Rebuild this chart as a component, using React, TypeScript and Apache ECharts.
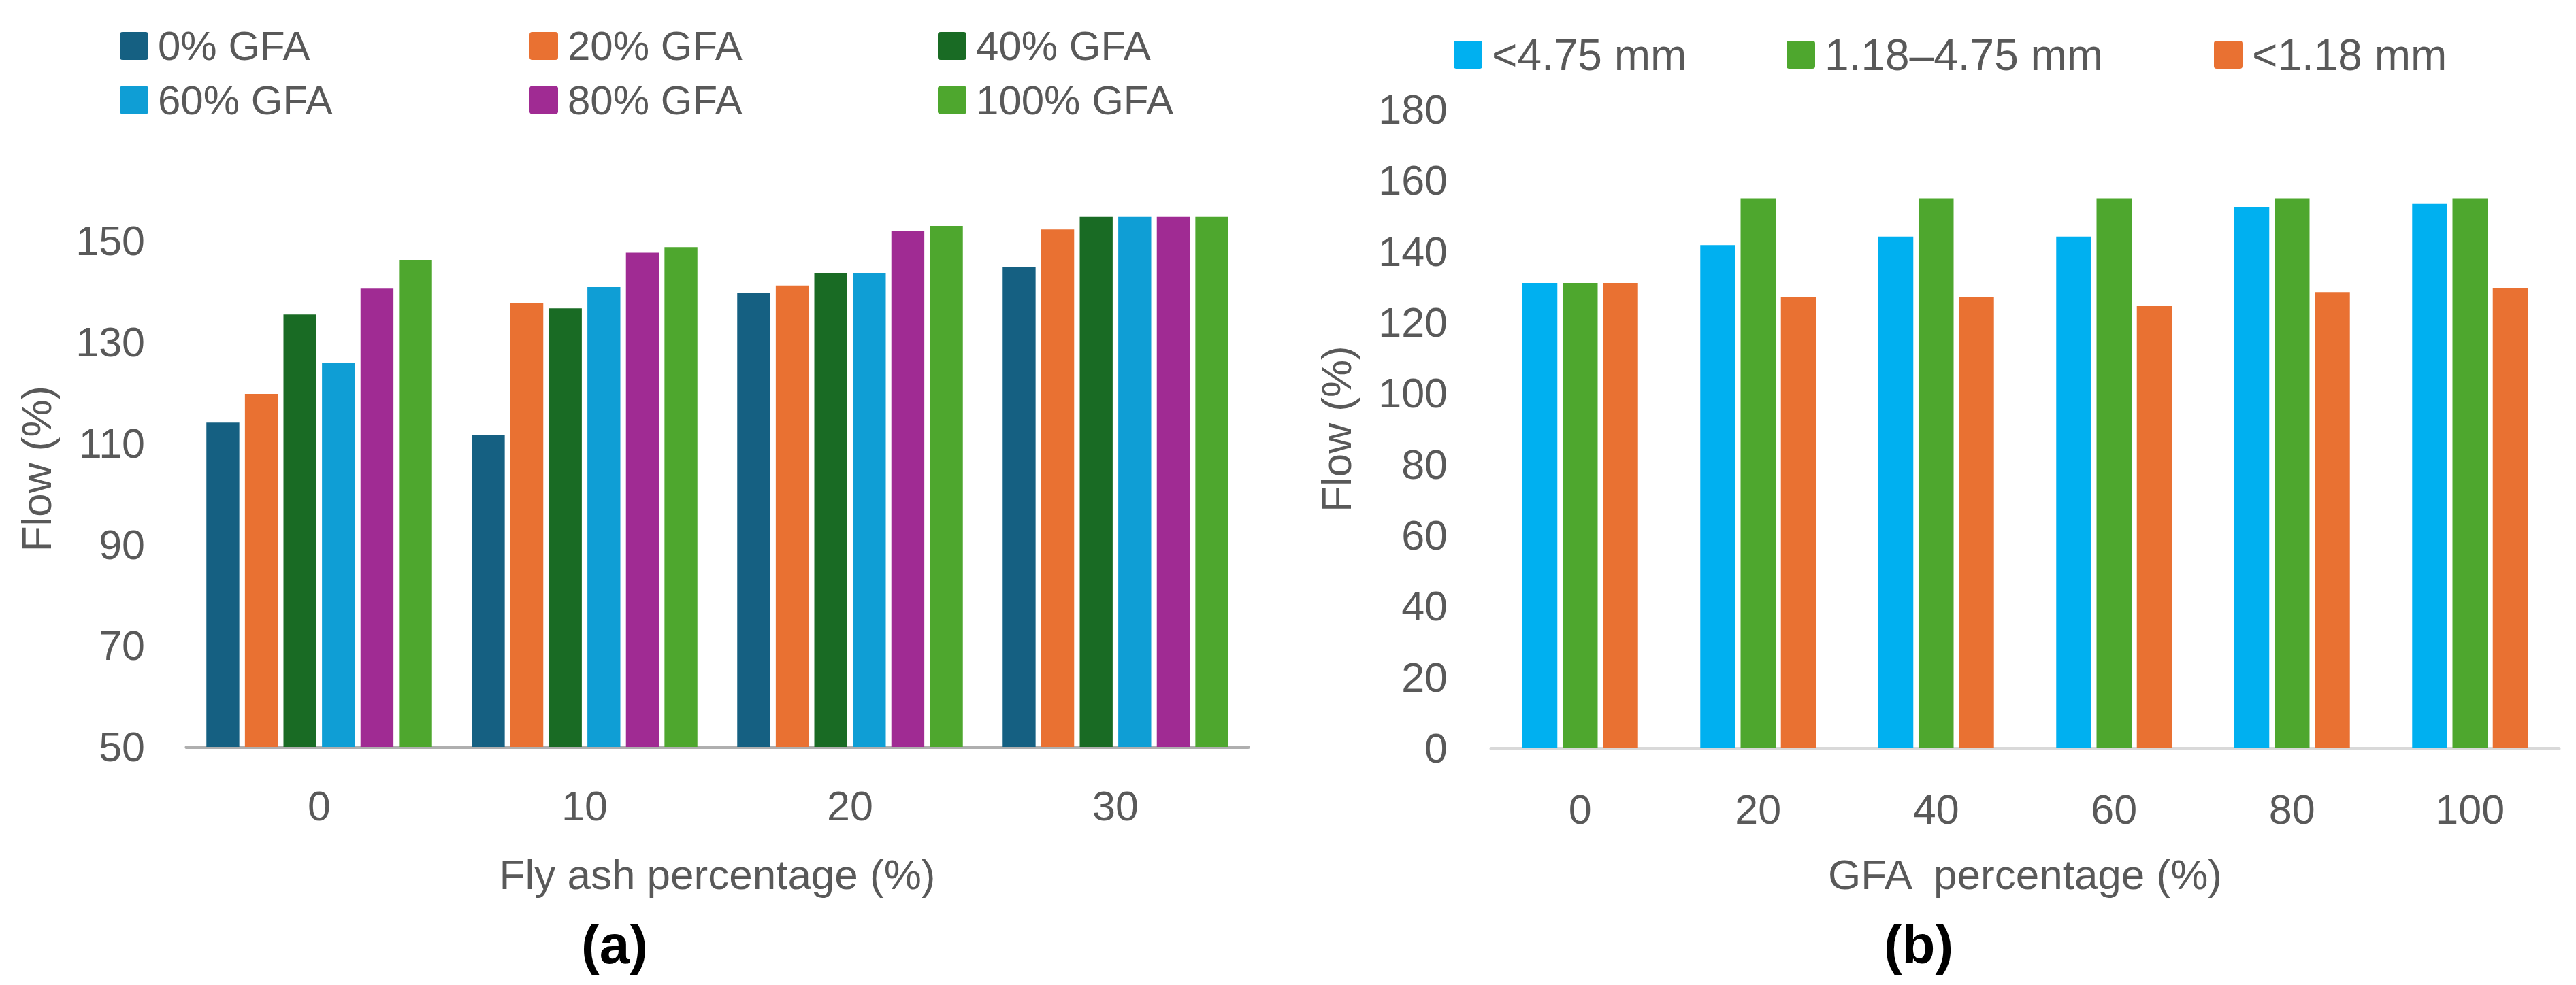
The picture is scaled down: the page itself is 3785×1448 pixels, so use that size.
import React, { useEffect, useRef } from 'react';
import * as echarts from 'echarts';

// ---------- data: chart (a) ----------
const flyAshCategories = ['0', '10', '20', '30'];
const gfaNames = ['0% GFA', '20% GFA', '40% GFA', '60% GFA', '80% GFA', '100% GFA'];
const gfa0 = [114.1, 111.6, 139.8, 144.8];
const gfa20 = [119.8, 137.7, 141.2, 152.3];
const gfa40 = [135.5, 136.7, 143.7, 154.8];
const gfa60 = [125.9, 140.9, 143.7, 154.8];
const gfa80 = [140.6, 147.7, 152.0, 154.8];
const gfa100 = [146.3, 148.8, 153.0, 154.8];
const yTicksA = [50, 70, 90, 110, 130, 150];

// ---------- data: chart (b) ----------
const gfaCategories = ['0', '20', '40', '60', '80', '100'];
const sizeNames = ['<4.75 mm', '1.18–4.75 mm', '<1.18 mm'];
const sizeBelow475 = [131.1, 141.8, 144.2, 144.2, 152.4, 153.4];
const size118to475 = [131.1, 155.0, 155.0, 155.0, 155.0, 155.0];
const sizeBelow118 = [131.1, 127.1, 127.1, 124.6, 128.6, 129.7];
const yTicksB = [0, 20, 40, 60, 80, 100, 120, 140, 160, 180];

// ---------- styles ----------
const FONT = '"Liberation Sans", Arial, Helvetica, sans-serif';
const TEXT = '#595959';
const colorsA = ['#156082', '#E97132', '#196B24', '#0F9ED5', '#A02B93', '#4EA72E'];
const colorsB = ['#00B0F0', '#4EA72E', '#E97132'];
const ICON = 'path://M4,0H38Q42,0,42,4V37Q42,41,38,41H4Q0,41,0,37V4Q0,0,4,0Z';

const legendPosA = [
  { left: 176, top: 37.5 },
  { left: 778, top: 37.5 },
  { left: 1378, top: 37.5 },
  { left: 176, top: 117 },
  { left: 778, top: 117 },
  { left: 1378, top: 117 },
];
const legendPosB = [
  { left: 2136, top: 48.5 },
  { left: 2625, top: 48.5 },
  { left: 3253, top: 48.5 },
];

function makeLegend(name: string, pos: { left: number; top: number }, fontSize: number) {
  return {
    data: [name],
    left: pos.left,
    top: pos.top,
    padding: 0,
    orient: 'horizontal',
    itemWidth: 42,
    itemHeight: 41,
    icon: ICON,
    selectedMode: false,
    textStyle: {
      color: TEXT,
      fontSize,
      fontFamily: FONT,
      lineHeight: 41,
      padding: [0, 0, 0, 9],
    },
  };
}

export default function App() {
  const ref = useRef<HTMLDivElement>(null);

  useEffect(() => {
    document.body.style.margin = '0';
    if (!ref.current) return;
    const chart = echarts.init(ref.current, undefined, { renderer: 'svg' });

    const seriesA = [gfa0, gfa20, gfa40, gfa60, gfa80, gfa100].map((d, i) => ({
      name: gfaNames[i],
      type: 'bar',
      xAxisIndex: 0,
      yAxisIndex: 0,
      data: d,
      barGap: '17%',
      barCategoryGap: '15%',
      itemStyle: { color: colorsA[i] },
    }));
    const seriesB = [sizeBelow475, size118to475, sizeBelow118].map((d, i) => ({
      name: sizeNames[i],
      type: 'bar',
      xAxisIndex: 1,
      yAxisIndex: 1,
      data: d,
      barGap: '15%',
      barCategoryGap: '35%',
      itemStyle: { color: colorsB[i] },
    }));

    const nameStyle = { color: TEXT, fontSize: 62, fontFamily: FONT };
    const labelStyle = { color: TEXT, fontSize: 61, fontFamily: FONT };

    chart.setOption({
      animation: false,
      backgroundColor: '#ffffff',
      grid: [
        { left: 274, top: 280, width: 1560, height: 818, containLabel: false },
        { left: 2191, top: 161, width: 1569, height: 939, containLabel: false },
      ],
      legend: [
        ...gfaNames.map((n, i) => makeLegend(n, legendPosA[i], 60)),
        ...sizeNames.map((n, i) => makeLegend(n, legendPosB[i], 64)),
      ],
      xAxis: [
        {
          type: 'category',
          gridIndex: 0,
          data: flyAshCategories,
          name: 'Fly ash percentage (%)',
          nameLocation: 'middle',
          nameGap: 156,
          nameTextStyle: nameStyle,
          axisLine: { show: true, lineStyle: { color: '#AFAFAF', width: 5 } },
          axisTick: { show: false },
          axisLabel: { ...labelStyle, margin: 56 },
          splitLine: { show: false },
        },
        {
          type: 'category',
          gridIndex: 1,
          data: gfaCategories,
          name: 'GFA  percentage (%)',
          nameLocation: 'middle',
          nameGap: 154,
          nameTextStyle: nameStyle,
          axisLine: { show: true, lineStyle: { color: '#D9D9D9', width: 5 } },
          axisTick: { show: false },
          axisLabel: { ...labelStyle, margin: 59 },
          splitLine: { show: false },
        },
      ],
      yAxis: [
        {
          type: 'value',
          gridIndex: 0,
          min: yTicksA[0],
          max: 160,
          interval: yTicksA[1] - yTicksA[0],
          name: 'Flow (%)',
          nameLocation: 'middle',
          nameGap: 190,
          nameTextStyle: nameStyle,
          axisLine: { show: false },
          axisTick: { show: false },
          splitLine: { show: false },
          axisLabel: {
            ...labelStyle,
            margin: 61,
            formatter: (v: number) => (yTicksA.includes(v) ? String(v) : ''),
          },
        },
        {
          type: 'value',
          gridIndex: 1,
          min: yTicksB[0],
          max: yTicksB[yTicksB.length - 1],
          interval: yTicksB[1] - yTicksB[0],
          name: 'Flow (%)',
          nameLocation: 'middle',
          nameGap: 197,
          nameTextStyle: nameStyle,
          axisLine: { show: false },
          axisTick: { show: false },
          splitLine: { show: false },
          axisLabel: { ...labelStyle, margin: 64 },
        },
      ],
      graphic: [
        {
          type: 'text',
          x: 903,
          y: 1388,
          style: {
            text: '(a)',
            fontSize: 80,
            fontWeight: 'bold',
            fontFamily: FONT,
            fill: '#000000',
            align: 'center',
            verticalAlign: 'middle',
          },
        },
        {
          type: 'text',
          x: 2819,
          y: 1388,
          style: {
            text: '(b)',
            fontSize: 80,
            fontWeight: 'bold',
            fontFamily: FONT,
            fill: '#000000',
            align: 'center',
            verticalAlign: 'middle',
          },
        },
      ],
      series: [...seriesA, ...seriesB],
    });

    return () => {
      chart.dispose();
    };
  }, []);

  return <div ref={ref} style={{ width: '3785px', height: '1448px' }} />;
}
